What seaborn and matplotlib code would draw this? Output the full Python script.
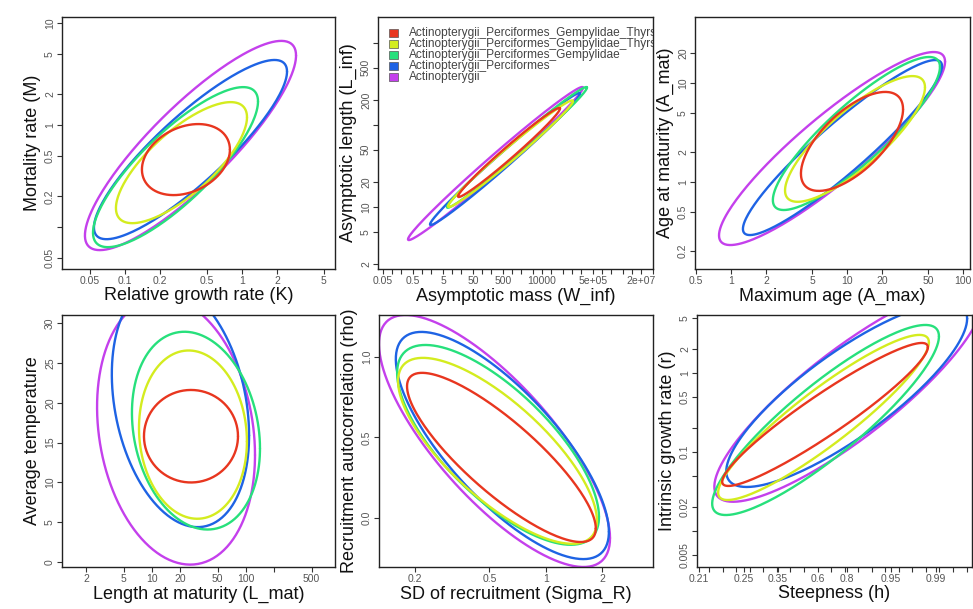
import numpy as np
import pandas as pd
import matplotlib
matplotlib.use("Agg")
import matplotlib.pyplot as plt
import seaborn as sns
from matplotlib.patches import Rectangle
from matplotlib.ticker import NullFormatter

sns.set_style("white")
plt.rcParams["font.family"] = ["Liberation Sans", "DejaVu Sans"]

# ---------------- data ----------------
taxa = ["Actinopterygii_Perciformes_Gempylidae_Thyrsites_atun",
        "Actinopterygii_Perciformes_Gempylidae_Thyrsites",
        "Actinopterygii_Perciformes_Gempylidae",
        "Actinopterygii_Perciformes",
        "Actinopterygii"]
colors = ["#E8361F", "#D4EC1F", "#27E07C", "#1E63E4", "#C440EC"]

# ellipse centre, half-range along x, half-range along y, correlation
# (log10 units for log axes, logit units for steepness)
k_cx = [-0.479, -0.517, -0.568, -0.440, -0.440]
m_cy = [-0.338, -0.368, -0.412, -0.240, -0.200]
k_a = [0.376, 0.560, 0.705, 0.825, 0.902]
m_b = [0.348, 0.593, 0.784, 0.878, 1.025]
km_rho = [0.28, 0.75, 0.82, 0.87, 0.86]

winf_cx = [2.90, 2.95, 3.166, 2.766, 2.449]
linf_cy = [1.665, 1.65, 1.727, 1.585, 1.53]
winf_a = [1.70, 2.083, 2.333, 2.50, 2.917]
linf_b = [0.543, 0.65, 0.736, 0.805, 0.933]
wl_rho = [0.985, 0.987, 0.99, 0.99, 0.99]

amax_cx = [1.043, 1.069, 1.081, 0.961, 0.871]
amat_cy = [0.41, 0.435, 0.49, 0.348, 0.338]
amax_a = [0.44, 0.603, 0.72, 0.858, 0.974]
amat_b = [0.50, 0.635, 0.773, 0.884, 0.975]
aa_rho = [0.65, 0.82, 0.87, 0.93, 0.90]

lmat_cx = [1.415, 1.436, 1.468, 1.303, 1.256]
temp_cy = [15.8, 16.0, 16.5, 19.75, 16.46]
lmat_a = [0.50, 0.574, 0.681, 0.73, 0.84]
temp_b = [5.8, 10.55, 12.4, 15.35, 16.76]
lt_rho = [0.0, -0.08, -0.18, -0.25, -0.18]

sig_cx = [-0.237, -0.258, -0.255, -0.232, -0.274]
rho_cy = [0.376, 0.417, 0.454, 0.45, 0.478]
sig_a = [0.505, 0.532, 0.54, 0.57, 0.618]
rho_b = [0.525, 0.577, 0.62, 0.705, 0.782]
sr_rho = [-0.84, -0.75, -0.72, -0.76, -0.77]

h_cx = [0.275, 0.22, 0.295, 1.075, 1.14]
r_cy = [-0.525, -0.563, -0.595, -0.279, -0.27]
h_a = [3.795, 3.89, 4.185, 4.445, 4.95]
r_b = [0.905, 1.045, 1.203, 1.164, 1.36]
hr_rho = [0.94, 0.91, 0.88, 0.83, 0.86]

steep_ticks = [0.21, 0.25, 0.35, 0.6, 0.8, 0.95, 0.99]


def ellipse_frame(cx, cy, a, b, rho, xlog, ylog, n=240):
    rows = []
    t = np.linspace(0, 2 * np.pi, n)
    for name, x0, y0, aa, bb, r in zip(taxa, cx, cy, a, b, rho):
        x = x0 + aa * np.cos(t)
        y = y0 + bb * (r * np.cos(t) + np.sqrt(1 - r * r) * np.sin(t))
        if xlog:
            x = 10 ** x
        if ylog:
            y = 10 ** y
        rows.append(pd.DataFrame({"taxon": name, "x": x, "y": y, "i": np.arange(n)}))
    return pd.concat(rows, ignore_index=True)


def logit_h(h):
    p = (np.asarray(h) - 0.2) / 0.8
    return np.log(p / (1 - p))


W, H = 973, 609
fig = plt.figure(figsize=(W / 100, H / 100), dpi=100)
fig.patch.set_facecolor("white")

palette = dict(zip(taxa, colors))
order = taxa[::-1]


def fmt(v):
    return ("%g" % v)


panels = [
    dict(box=(62, 17, 273, 252), xlog=True, ylog=True,
         xlim=(10 ** -1.538, 10 ** 0.795), ylim=(10 ** -1.41, 10 ** 1.059),
         xt=[0.05, 0.1, 0.2, 0.5, 1, 2, 5], xl=None,
         yt=[0.05, 0.1, 0.2, 0.5, 1, 2, 5, 10],
         yl=["0.05", "", "0.2", "0.5", "1", "2", "5", "10"],
         xlab="Relative growth rate (K)", ylab="Mortality rate (M)",
         d=(k_cx, m_cy, k_a, m_b, km_rho)),
    dict(box=(378, 17, 275, 252), xlog=True, ylog=True,
         xlim=(10 ** -1.468, 10 ** 7.70), ylim=(10 ** 0.244, 10 ** 3.317),
         xt=[0.05, 0.5, 5, 50, 500, 1e4, 5e5, 2e7],
         xl=["0.05", "0.5", "5", "50", "500", "10000", "5e+05", "2e+07"],
         yt=[2, 5, 10, 20, 50, 100, 200, 500, 1000],
         yl=["2", "5", "10", "20", "50", "", "200", "500", ""],
         xlab="Asymptotic mass (W_inf)", ylab="Asymptotic length (L_inf)",
         d=(winf_cx, linf_cy, winf_a, linf_b, wl_rho)),
    dict(box=(695, 17, 275, 252), xlog=True, ylog=True,
         xlim=(10 ** -0.31, 10 ** 2.06), ylim=(10 ** -0.879, 10 ** 1.667),
         xt=[0.5, 1, 2, 5, 10, 20, 50, 100], xl=None,
         yt=[0.2, 0.5, 1, 2, 5, 10, 20], yl=None,
         xlab="Maximum age (A_max)", ylab="Age at maturity (A_mat)",
         d=(amax_cx, amat_cy, amax_a, amat_b, aa_rho)),
    dict(box=(62, 315, 273, 252), xlog=True, ylog=False,
         xlim=(10 ** 0.043, 10 ** 2.947), ylim=(-0.6, 31),
         xt=[2, 5, 10, 20, 50, 100, 200, 500],
         xl=["2", "5", "10", "20", "50", "100", "", "500"],
         yt=[0, 5, 10, 15, 20, 25, 30], yl=None,
         xlab="Length at maturity (L_mat)", ylab="Average temperature",
         d=(lmat_cx, temp_cy, lmat_a, temp_b, lt_rho)),
    dict(box=(379, 315, 274, 252), xlog=True, ylog=False,
         xlim=(10 ** -0.892, 10 ** 0.574), ylim=(-0.304, 1.26),
         xt=[0.2, 0.5, 1, 2], xl=None,
         yt=[0.0, 0.5, 1.0], yl=["0.0", "0.5", "1.0"],
         xlab="SD of recruitment (Sigma_R)", ylab="Recruitment autocorrelation (rho)",
         d=(sig_cx, rho_cy, sig_a, rho_b, sr_rho)),
    dict(box=(697, 315, 275, 252), xlog=False, ylog=True,
         xlim=(-4.45, 5.7), ylim=(10 ** -2.456, 10 ** 0.734),
         xt=list(logit_h(steep_ticks)), xl=[fmt(v) for v in steep_ticks],
         yt=[0.005, 0.01, 0.02, 0.05, 0.1, 0.2, 0.5, 1, 2, 5],
         yl=["0.005", "", "0.02", "", "0.1", "", "0.5", "1", "2", "5"],
         xlab="Steepness (h)", ylab="Intrinsic growth rate (r)",
         d=(h_cx, r_cy, h_a, r_b, hr_rho)),
]

axes = []
for k, p in enumerate(panels):
    l, t, w, h = p["box"]
    ax = fig.add_axes([l / W, 1 - (t + h) / H, w / W, h / H])
    ax.set_facecolor("white")
    if p["xlog"]:
        ax.set_xscale("log")
    if p["ylog"]:
        ax.set_yscale("log")
    df = ellipse_frame(*p["d"], p["xlog"], p["ylog"])
    sns.lineplot(data=df, x="x", y="y", hue="taxon", hue_order=order,
                 palette=palette, sort=False, estimator=None, units="taxon",
                 linewidth=1.7, legend=False, ax=ax)
    ax.set_xlim(*p["xlim"])
    ax.set_ylim(*p["ylim"])
    ax.minorticks_off()
    xl = p["xl"] if p["xl"] is not None else [fmt(v) for v in p["xt"]]
    yl = p["yl"] if p["yl"] is not None else [fmt(v) for v in p["yt"]]
    ax.set_xticks(p["xt"])
    ax.set_xticklabels(xl)
    ax.set_yticks(p["yt"])
    ax.set_yticklabels(yl, rotation=90, va="center")
    ax.xaxis.set_minor_formatter(NullFormatter())
    ax.yaxis.set_minor_formatter(NullFormatter())
    ax.tick_params(axis="both", which="both", direction="out", length=3.5,
                   width=0.8, color="#333333", labelsize=7.5,
                   labelcolor="#555555", pad=1.5, bottom=True, left=True)
    ax.set_xlabel(p["xlab"], fontsize=13, color="#111111", labelpad=1)
    ax.set_ylabel(p["ylab"], fontsize=13, color="#111111", labelpad=3)
    for s in ax.spines.values():
        s.set_visible(True)
        s.set_color("#222222")
        s.set_linewidth(1.0)
    axes.append(ax)

# extra unlabeled ticks
ax2 = axes[1]
minor_w = [m * 10.0 ** e for e in range(-2, 8) for m in (1, 2, 5)]
ax2.set_xticks([v for v in minor_w if 10 ** -1.468 < v < 10 ** 7.70], minor=True)
ax2.xaxis.set_minor_formatter(NullFormatter())
ax2.tick_params(axis="x", which="minor", length=3.5, width=0.8, color="#333333")
ax6 = axes[5]
ax6.set_xticks(np.arange(-4.0, 5.6, 0.5), minor=True)
ax6.xaxis.set_minor_formatter(NullFormatter())
ax6.tick_params(axis="x", which="minor", length=3.5, width=0.8, color="#333333")

# legend in the second panel (R-style, clipped at the plot box)
bw, bh = 275.0, 252.0
for i, (name, c) in enumerate(zip(taxa, colors)):
    yc = 1 - (16 + i * 11.0) / bh
    ax2.add_patch(Rectangle((11 / bw, yc - 4 / bh), 8.5 / bw, 8 / bh,
                            transform=ax2.transAxes, facecolor=c,
                            edgecolor="#555555", linewidth=0.5, clip_on=True))
    ax2.text(31 / bw, yc, name, transform=ax2.transAxes, fontsize=8.6,
             color="#444444", va="center", ha="left", clip_on=True)

fig.savefig("out.png", dpi=100, facecolor="white")
